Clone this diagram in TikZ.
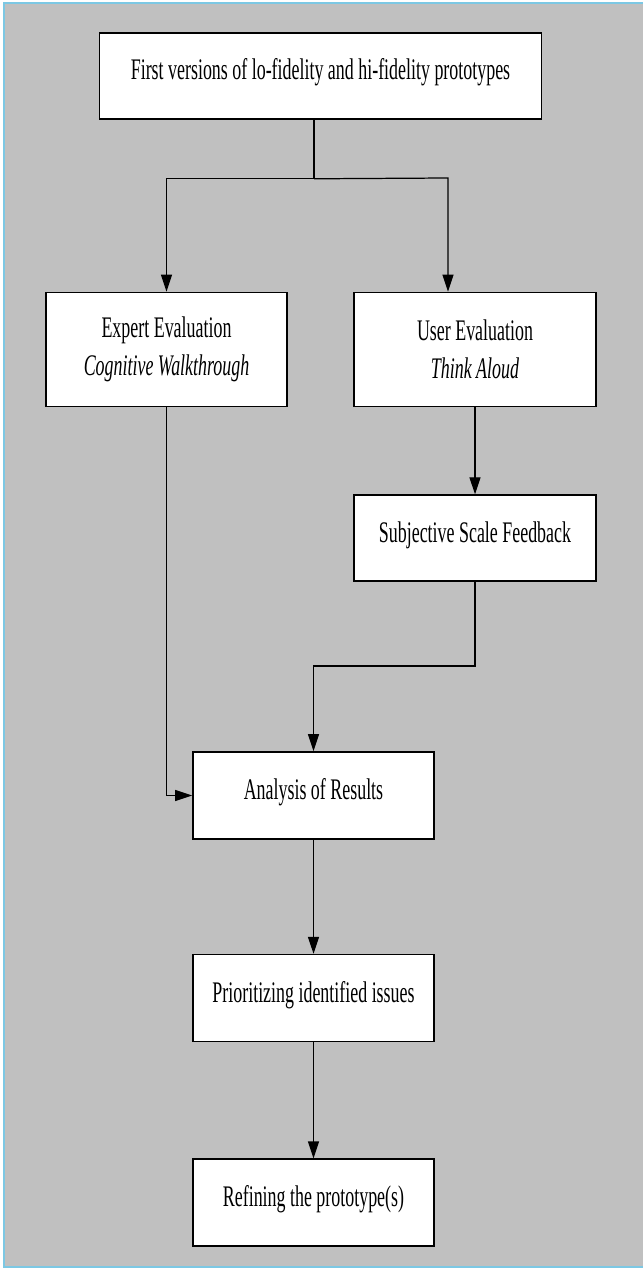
\documentclass[tikz,border=0pt]{standalone}
\definecolor{PanelGray}{HTML}{C0C0C0}
\definecolor{FrameBlue}{HTML}{7CC8E4}
\usepackage{fontspec}
\setmainfont{Liberation Serif}[FakeStretch=0.6]
\usepackage{tikz}
\usetikzlibrary{positioning, arrows.meta, calc}

\begin{document}
\begin{tikzpicture}[
  stage/.style={draw=black, line width=0.9pt, fill=white, align=center,
    minimum width=4.82cm, minimum height=1.74cm, inner sep=2pt,
    font=\fontsize{17}{21.5}\selectfont},
  oneline/.style={text height=0.45cm, text depth=0.29cm},
  flow/.style={line width=0.7pt, -{Triangle[length=0.34cm, width=0.22cm]}},
  link/.style={line width=0.7pt}
]
\useasboundingbox (0,0) rectangle (12.86,-25.38);

% Panel
\fill[white] (0,0) rectangle (12.86,-25.38);
\fill[PanelGray] (0.08,-0.06) rectangle (12.86,-25.34);
\draw[FrameBlue, line width=1pt] (12.86,-0.06) -- (0.08,-0.06) -- (0.08,-25.34) -- (12.86,-25.34);

% Prototypes
\node[stage, oneline, minimum width=8.84cm, minimum height=1.72cm] (proto) at (6.41,-1.52)
  {First versions of lo-fidelity and hi-fidelity prototypes};

% Evaluations
\node[stage, minimum height=2.28cm] (expert) at (3.33,-6.99)
  {Expert Evaluation\\\textit{Cognitive Walkthrough}};
\node[stage, minimum height=2.28cm, minimum width=4.84cm] (user) at (9.50,-6.99)
  {User Evaluation\\\textit{Think Aloud}};
\node[stage, oneline, minimum width=4.84cm, minimum height=1.72cm, below=1.74cm of user] (subj)
  {Subjective Scale Feedback};

% Results and refinement
\node[stage, oneline] (ana) at (6.27,-15.91) {Analysis of Results};
\node[stage, oneline, below=2.28cm of ana] (prio) {Prioritizing identified issues};
\node[stage, oneline, below=2.32cm of prio] (refine) {Refining the prototype(s)};

% Connectors
\coordinate (fork) at ($(proto.south)+(-0.13,-1.18)$);
\coordinate (forkR) at (8.96,-3.56);
\coordinate (join) at (9.50,-13.32);
\draw[link] (proto.south -| fork) -- (fork);
\draw[flow] (fork) -| (expert.north);
\draw[flow] (fork) -- (forkR) -- (forkR |- user.north);
\draw[flow] (user) -- (subj);
\draw[flow] (subj.south) -- (join) -| (ana.north);
\draw[flow] (expert.south) |- (ana.west);
\draw[flow] (ana) -- (prio);
\draw[flow] (prio) -- (refine);

\end{tikzpicture}
\end{document}
